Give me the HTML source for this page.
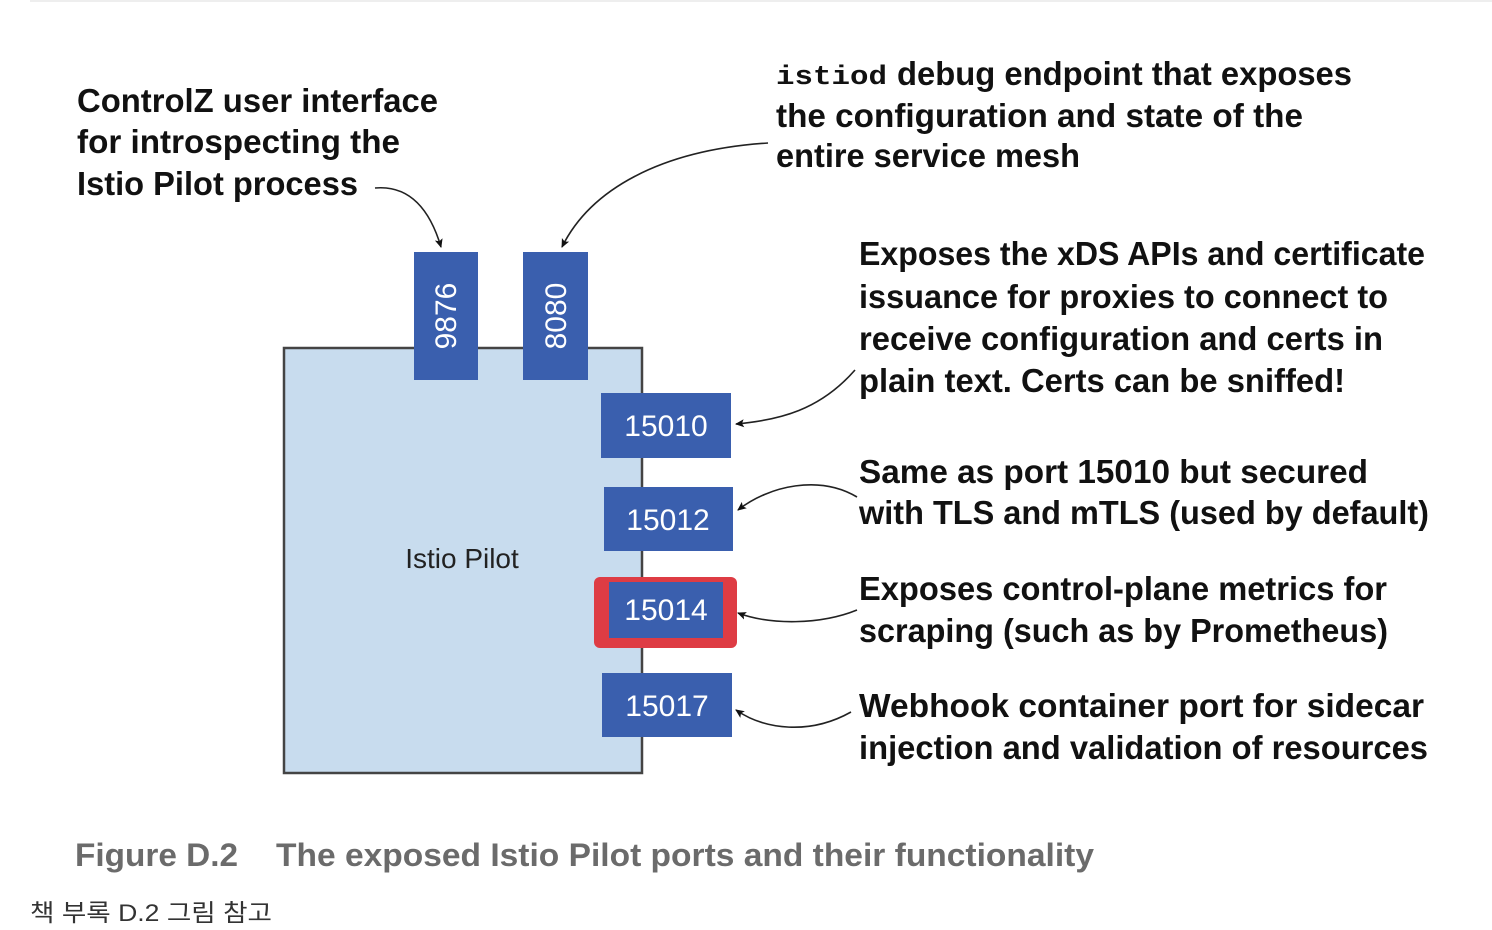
<!DOCTYPE html>
<html><head><meta charset="utf-8"><style>
html,body{margin:0;padding:0;background:#fff;width:1492px;height:930px;overflow:hidden}
svg{display:block}
.t{font-family:"Liberation Sans",sans-serif;font-weight:bold;font-size:33px;fill:#111}
.p{font-family:"Liberation Sans",sans-serif;font-size:30px;fill:#fff}
</style></head><body>
<svg width="1492" height="930" viewBox="0 0 1492 930" xmlns="http://www.w3.org/2000/svg">
<defs><marker id="a" markerWidth="10" markerHeight="10" refX="8" refY="5" orient="auto" markerUnits="userSpaceOnUse"><path d="M0,1 L9,5 L0,9 L2,5 z" fill="#111"/></marker></defs>
<line x1="30" y1="1" x2="1492" y2="1" stroke="#eee" stroke-width="2"/>
<rect x="284" y="348" width="358" height="425" fill="#c8dcee" stroke="#444" stroke-width="2.5"/>
<text x="462" y="568" text-anchor="middle" font-family="Liberation Sans,sans-serif" font-size="28" fill="#222">Istio Pilot</text>
<rect x="414" y="252" width="64" height="128" fill="#3a5fae"/>
<rect x="523" y="252" width="65" height="128" fill="#3a5fae"/>
<text class="p" transform="translate(456,316) rotate(-90)" text-anchor="middle">9876</text>
<text class="p" transform="translate(566,316) rotate(-90)" text-anchor="middle">8080</text>
<rect x="601" y="393" width="130" height="65" fill="#3a5fae"/>
<text class="p" x="666" y="436" text-anchor="middle">15010</text>
<rect x="604" y="487" width="129" height="64" fill="#3a5fae"/>
<text class="p" x="668" y="530" text-anchor="middle">15012</text>
<rect x="594" y="577" width="143" height="71" rx="6" fill="#de3c44"/>
<rect x="609" y="582" width="114" height="56" fill="#3a5fae"/>
<text class="p" x="666" y="620" text-anchor="middle">15014</text>
<rect x="602" y="673" width="130" height="64" fill="#3a5fae"/>
<text class="p" x="667" y="716" text-anchor="middle">15017</text>
<g fill="none" stroke="#222" stroke-width="1.6" marker-end="url(#a)">
<path d="M375,188 C410,185 430,210 441,247"/>
<path d="M768,143 C660,150 590,190 562,247"/>
<path d="M855,370 C820,410 780,420 736,424"/>
<path d="M857,497 C820,475 770,485 738,510"/>
<path d="M857,610 C820,625 770,625 738,613"/>
<path d="M851,712 C810,735 765,730 736,710"/>
</g>
<text class="t" x="77" y="112" textLength="361" lengthAdjust="spacingAndGlyphs">ControlZ user interface</text>
<text class="t" x="77" y="153" textLength="323" lengthAdjust="spacingAndGlyphs">for introspecting the</text>
<text class="t" x="77" y="195" textLength="281" lengthAdjust="spacingAndGlyphs">Istio Pilot process</text>
<text x="776" y="84" font-family="Liberation Mono,monospace" font-weight="bold" font-size="27" fill="#111" textLength="111" lengthAdjust="spacingAndGlyphs">istiod</text>
<text class="t" x="897" y="85" textLength="455" lengthAdjust="spacingAndGlyphs">debug endpoint that exposes</text>
<text class="t" x="776" y="127" textLength="527" lengthAdjust="spacingAndGlyphs">the configuration and state of the</text>
<text class="t" x="776" y="167" textLength="304" lengthAdjust="spacingAndGlyphs">entire service mesh</text>
<text class="t" x="859" y="265" textLength="566" lengthAdjust="spacingAndGlyphs">Exposes the xDS APIs and certificate</text>
<text class="t" x="859" y="308" textLength="529" lengthAdjust="spacingAndGlyphs">issuance for proxies to connect to</text>
<text class="t" x="859" y="350" textLength="524" lengthAdjust="spacingAndGlyphs">receive configuration and certs in</text>
<text class="t" x="859" y="392" textLength="486" lengthAdjust="spacingAndGlyphs">plain text. Certs can be sniffed!</text>
<text class="t" x="859" y="483" textLength="509" lengthAdjust="spacingAndGlyphs">Same as port 15010 but secured</text>
<text class="t" x="859" y="524" textLength="570" lengthAdjust="spacingAndGlyphs">with TLS and mTLS (used by default)</text>
<text class="t" x="859" y="600" textLength="528" lengthAdjust="spacingAndGlyphs">Exposes control-plane metrics for</text>
<text class="t" x="859" y="642" textLength="529" lengthAdjust="spacingAndGlyphs">scraping (such as by Prometheus)</text>
<text class="t" x="859" y="717" textLength="565" lengthAdjust="spacingAndGlyphs">Webhook container port for sidecar</text>
<text class="t" x="859" y="759" textLength="569" lengthAdjust="spacingAndGlyphs">injection and validation of resources</text>
<text x="75" y="866" font-family="Liberation Sans,sans-serif" font-weight="bold" font-size="32" fill="#6b6b6b" textLength="163" lengthAdjust="spacingAndGlyphs">Figure D.2</text>
<text x="276" y="866" font-family="Liberation Sans,sans-serif" font-weight="bold" font-size="32" fill="#6b6b6b" textLength="818" lengthAdjust="spacingAndGlyphs">The exposed Istio Pilot ports and their functionality</text>
<text x="30" y="921" font-family="Liberation Sans,'Noto Sans CJK KR',sans-serif" font-size="24" fill="#333" textLength="242" lengthAdjust="spacingAndGlyphs">책 부록 D.2 그림 참고</text>
</svg>
</body></html>
